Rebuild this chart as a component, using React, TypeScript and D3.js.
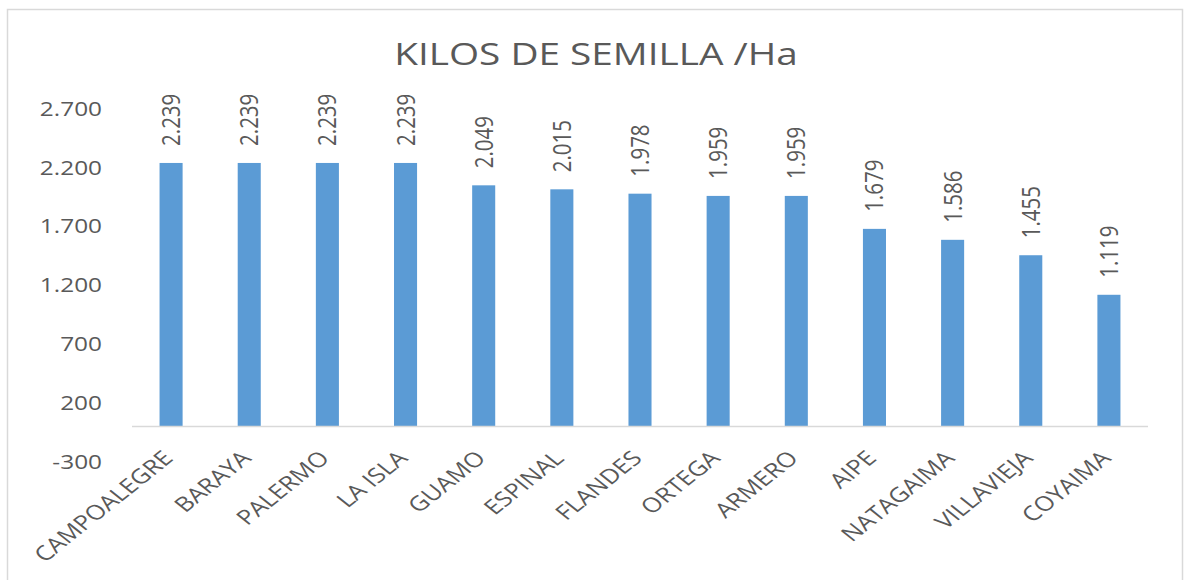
import React from "react";
import * as d3 from "d3";

const categories = ["CAMPOALEGRE", "BARAYA", "PALERMO", "LA ISLA", "GUAMO", "ESPINAL", "FLANDES", "ORTEGA", "ARMERO", "AIPE", "NATAGAIMA", "VILLAVIEJA", "COYAIMA"];
const values = [2239, 2239, 2239, 2239, 2049, 2015, 1978, 1959, 1959, 1679, 1586, 1455, 1119];
const yTicks = [-300, 200, 700, 1200, 1700, 2200, 2700];
const title = "KILOS DE SEMILLA /Ha";

const W = 1184;
const H = 580;
const S = 1.25; // horizontal stretch of text in the reference
const FONT = "'Open Sans', sans-serif";
const TXT = "#595959";

const locale = d3.formatLocale({ decimal: ",", thousands: ".", grouping: [3], currency: ["$", ""], minus: "-" });
const fmt = locale.format(",");

export default function App() {
  const x = d3.scaleBand<string>().domain(categories).range([132, 1148]).paddingInner(0.705).paddingOuter(0.3525);
  const y = d3.scaleLinear().domain([-300, 2700]).range([461.8, 108.7]);
  const y0 = y(0);

  return (
    <svg width={W} height={H} style={{ position: "absolute", left: 0, top: 0, background: "#fff" }}>
      <rect x={7.5} y={9.5} width={1175} height={600} fill="#fff" stroke="#d9d9d9" strokeWidth={1.5} />
      <text transform={`translate(596,65) scale(${S},1)`} textAnchor="middle" fontFamily={FONT} fontSize={31} fill={TXT}>
        {title}
      </text>
      {yTicks.map((t) => (
        <text key={t} transform={`translate(102,${y(t)}) scale(${S},1)`} dy="0.36em" textAnchor="end" fontFamily={FONT} fontSize={19.5} fill={TXT}>
          {fmt(t)}
        </text>
      ))}
      {categories.map((c, i) => (
        <rect key={c} x={x(c)} y={y(values[i])} width={x.bandwidth()} height={y0 - y(values[i])} fill="#5B9BD5" />
      ))}
      <line x1={132} x2={1148} y1={y0} y2={y0} stroke="#d9d9d9" strokeWidth={1.5} />
      {categories.map((c, i) => {
        const cx = (x(c) as number) + x.bandwidth() / 2;
        return (
          <text key={"v" + c} transform={`translate(${cx},${y(values[i]) - 17}) scale(${S},1) rotate(-90)`} dy="0.35em" textAnchor="start" fontFamily={FONT} fontSize={20.5} fill={TXT}>
            {fmt(values[i])}
          </text>
        );
      })}
      {categories.map((c) => {
        const cx = (x(c) as number) + x.bandwidth() / 2;
        return (
          <text key={"c" + c} transform={`translate(${cx - 3},${y0 + 28}) scale(${S},1) rotate(-45)`} dy="0.35em" textAnchor="end" fontFamily={FONT} fontSize={20.5} fill={TXT}>
            {c}
          </text>
        );
      })}
    </svg>
  );
}
